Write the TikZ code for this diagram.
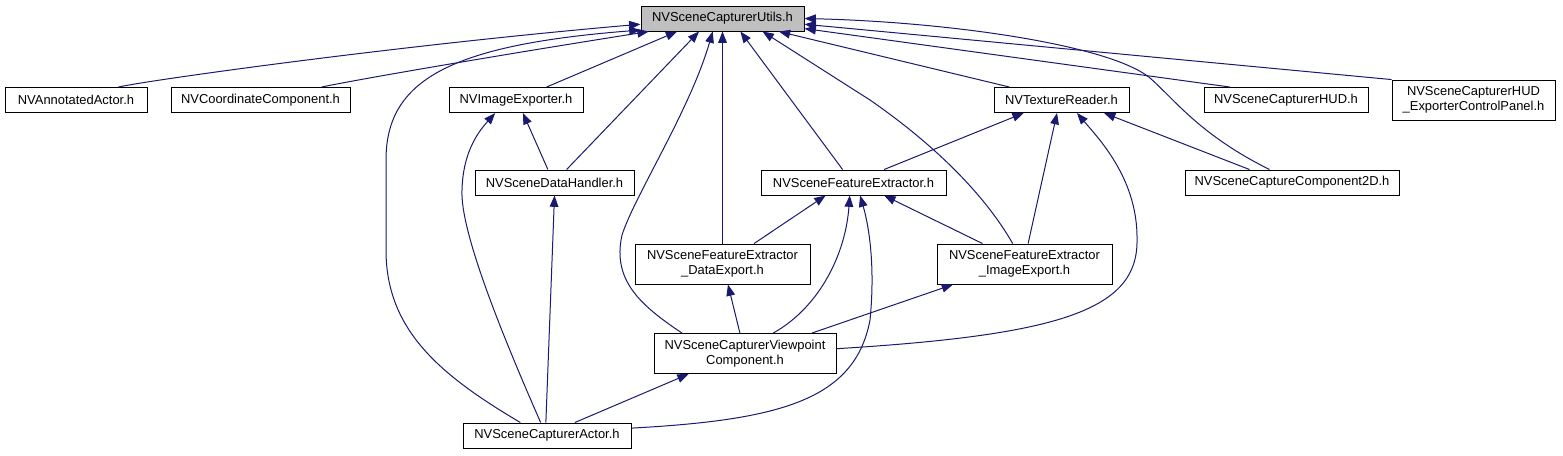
\documentclass[tikz,border=0pt]{standalone}
\usepackage{fontspec}
\setmainfont{Liberation Sans}
\usepackage{tikz}
\usetikzlibrary{
  arrows.meta
}
\definecolor{edgeblue}{RGB}{25,25,112}
\definecolor{focusgray}{RGB}{191,191,191}
\tikzset{
  header/.style={
    draw=black,
    line width=0.75pt,
    fill=white,
    inner sep=0pt,
    align=center,
    font=\fontsize{9.7pt}{10.8pt}\selectfont,
    minimum height=18.75pt
  },
  header two/.style={
    header,
    minimum height=30pt
  },
  focus header/.style={
    header,
    fill=focusgray
  },
  include/.style={
    draw=edgeblue,
    line width=0.75pt,
    -{Triangle[length=8.5pt,width=6.5pt]}
  }
}

\begin{document}
\begin{tikzpicture}[x=0.75pt,y=-0.75pt]

    \useasboundingbox (0,0) rectangle (1563,455);

    % ---------- ヘッダ ----------
    \node[focus header, minimum width=122.25pt] (utils) at (722.5,18.5)
      {NVSceneCapturerUtils.h};

    % 1段目
    \node[header, minimum width=106.5pt] (annot) at (76,100)
      {NVAnnotatedActor.h};
    \node[header, minimum width=134.25pt] (coord) at (260.5,100)
      {NVCoordinateComponent.h};
    \node[header, minimum width=100.5pt] (imgexp) at (516,100)
      {NVImageExporter.h};
    \node[header, minimum width=101.25pt] (texture) at (1061.5,100)
      {NVTextureReader.h};
    \node[header, minimum width=123pt] (hud) at (1286,100)
      {NVSceneCapturerHUD.h};
    \node[header two, minimum width=122.25pt] (hudpanel) at (1473.5,100)
      {NVSceneCapturerHUD\\\_ExporterControlPanel.h};

    % 2段目
    \node[header, minimum width=119.25pt] (datahandler) at (554.5,182.5)
      {NVSceneDataHandler.h};
    \node[header, minimum width=138.75pt] (featext) at (853.5,182.5)
      {NVSceneFeatureExtractor.h};
    \node[header, minimum width=160.5pt] (capcomp) at (1292,182.5)
      {NVSceneCaptureComponent2D.h};

    % 3段目
    \node[header two, minimum width=131.25pt] (dataexp) at (722.5,264)
      {NVSceneFeatureExtractor\\\_DataExport.h};
    \node[header two, minimum width=131.25pt] (imgexport) at (1024.5,264)
      {NVSceneFeatureExtractor\\\_ImageExport.h};

    % 4段目
    \node[header two, minimum width=136.5pt] (viewpoint) at (745,353.5)
      {NVSceneCapturerViewpoint\\Component.h};

    % 5段目
    \node[header, minimum width=126pt] (actor) at (547,435.5)
      {NVSceneCapturerActor.h};

    % ---------- Utilsへの依存 ----------
    \draw[include] (annot.17)
      .. controls (150,80) and (400,45) .. (utils.184);
    \draw[include] (coord.12)
      .. controls (360,79) and (500,55) .. (utils.190);
    \draw[include] (actor.154)
      .. controls (440,375) and (386,330) .. (386,250)
      -- (386,160)
      .. controls (386,80) and (450,45) .. (utils.188);
    \draw[include] (imgexp.23) -- (utils.196);
    \draw[include] (datahandler.47) -- (utils.209);
    \draw[include] (viewpoint.162)
      .. controls (640,305) and (612,280) .. (622,235)
      .. controls (635,195) and (690,110) .. (utils.233);
    \draw[include] (dataexp.north) -- (utils.south);
    \draw[include] (featext.130) -- (utils.324);
    \draw[include] (imgexport.120)
      .. controls (985,195) and (935,145) .. (870,100)
      -- (utils.342);
    \draw[include] (texture.166) -- (utils.347);
    \draw[include] (capcomp.150)
      .. controls (1200,135) and (1175,100) .. (1150,78)
      .. controls (1110,45) and (950,22) .. (utils.0);
    \draw[include] (hudpanel.166) -- (utils.356);
    \draw[include] (hud.167) -- (utils.353);

    % ---------- ImageExporterへの依存 ----------
    \draw[include] (datahandler.117) -- (imgexp.298);
    \draw[include] (actor.116)
      .. controls (500,330) and (460,230) .. (462,190)
      .. controls (463,150) and (480,130) .. (imgexp.212);

    % ---------- DataHandlerへの依存 ----------
    \draw[include] (actor.95) -- (datahandler.south);

    % ---------- TextureReaderへの依存 ----------
    \draw[include] (featext.23) -- (texture.199);
    \draw[include] (imgexport.80) -- (texture.251);
    \draw[include] (viewpoint.3)
      .. controls (1060,335) and (1138,310) .. (1137,240)
      .. controls (1138,180) and (1100,140) .. (texture.320);
    \draw[include] (capcomp.163) -- (texture.343);

    % ---------- FeatureExtractorへの依存 ----------
    \draw[include] (dataexp.33) -- (featext.205);
    \draw[include] (imgexport.154) -- (featext.337);
    \draw[include] (viewpoint.36)
      .. controls (815,310) and (845,260) .. (featext.254);
    \draw[include] (actor.5)
      .. controls (780,420) and (855,400) .. (870,320)
      .. controls (875,270) and (870,230) .. (featext.297);

    % ---------- 下段の依存 ----------
    \draw[include] (viewpoint.104) -- (dataexp.285);
    \draw[include] (viewpoint.17) -- (imgexport.196);
    \draw[include] (actor.25) -- (viewpoint.200);

  \end{tikzpicture}
\end{document}
